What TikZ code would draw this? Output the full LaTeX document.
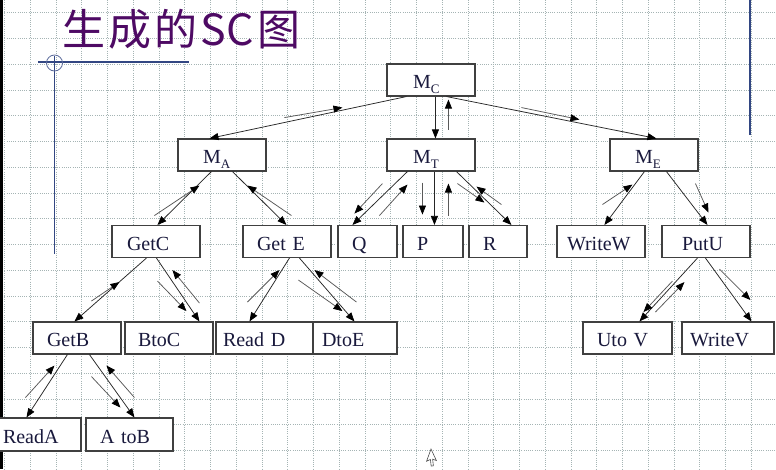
\documentclass[tikz,border=0pt]{standalone}
\usepackage{fontspec}
\setmainfont{Liberation Serif}
\newfontfamily\cjkfont{Noto Sans CJK SC}
\usetikzlibrary{calc,arrows.meta}
\definecolor{gridc}{RGB}{165,180,180}
\definecolor{titlec}{RGB}{78,10,100}
\definecolor{bluel}{RGB}{50,70,130}
\definecolor{txtc}{RGB}{25,25,60}
\newcommand\sbx[1]{\raisebox{-5pt}{\fontsize{13}{13}\selectfont #1}}
\begin{document}
\begin{tikzpicture}[x=1pt,y=-1pt,
  box/.style={draw=black!75,line width=1.1pt,fill=white,inner xsep=0pt,inner ysep=0pt,
    minimum height=32pt,text height=17pt,text depth=0pt,align=left,
    font=\fontsize{20}{24}\selectfont,text=txtc},
  marr/.style={draw=black!85,line width=0.75pt,-{Triangle[length=9pt,width=7pt,black]}},
  sarr/.style={draw=black!65,line width=0.75pt,-{Triangle[length=9pt,width=7pt,black]}},
  gridl/.style={draw=gridc,line width=0.7pt,dash pattern=on 1pt off 1.2pt},
]
\useasboundingbox (0,0) rectangle (776,469);
\clip (0,0) rectangle (776,469);
\fill[white] (0,0) rectangle (776,469);
% grid
\foreach \i in {0,...,29} \draw[gridl] ({4.5+25.75*\i},0) -- ({4.5+25.75*\i},469);
\foreach \j in {0,...,17} \draw[gridl] (0,{12.7+25.75*\j}) -- (776,{12.7+25.75*\j});
% left strip and blue rules
\fill[black] (0,0) rectangle (3,469);
\draw[bluel,line width=1.2pt] (38,62) -- (189,62);
\draw[bluel,line width=1.4pt] (54.5,56) -- (54.5,254);
\draw[bluel!80,line width=0.8pt] (54.5,63) circle (8);
\draw[bluel,line width=1.4pt] (750,0) -- (750,135);
% title
\node[anchor=base west,inner sep=0pt,text=titlec,font=\cjkfont\fontsize{43}{43}\selectfont] (title) at (62,45) {生\kern3pt 成\kern3pt 的\kern3pt S\kern1pt C\kern3pt 图};
% boxes
\node[box,text width=88pt] (MC) at (431,80) {\hspace*{26pt}M\sbx{C}};
\node[box,text width=88pt] (MT) at (431,155) {\hspace*{26pt}M\sbx{T}};
\node[box,text width=88pt] (MA) at (222,155) {\hspace*{25pt}M\sbx{A}};
\node[box,text width=88pt] (ME) at (654,155) {\hspace*{25pt}M\sbx{E}};
\node[box,text width=88pt] (GetC) at (156,241.5) {\hspace*{15pt}GetC};
\node[box,text width=88pt] (GetE) at (287,241.5) {\hspace*{14pt}Get E};
\node[box,text width=59pt] (Q) at (367.5,241.5) {\hspace*{14pt}Q};
\node[box,text width=60pt] (P) at (433,241.5) {\hspace*{14pt}P};
\node[box,text width=58pt] (R) at (498,241.5) {\hspace*{14pt}R};
\node[box,text width=88pt] (WriteW) at (601,241.5) {\hspace*{10pt}WriteW};
\node[box,text width=88pt] (PutU) at (706,241.5) {\hspace*{20pt}PutU};
\node[box,text width=88pt] (GetB) at (77,338) {\hspace*{14pt}GetB};
\node[box,text width=88pt] (BtoC) at (169,338) {\hspace*{13pt}BtoC};
\node[box,text width=97pt] (ReadD) at (264.5,338) {\hspace*{7pt}Read D};
\node[box,text width=84pt] (DtoE) at (355,338) {\hspace*{9pt}DtoE};
\node[box,text width=89pt] (UtoV) at (627.5,338) {\hspace*{14pt}Uto V};
\node[box,text width=92pt] (WriteV) at (728,338) {\hspace*{8pt}WriteV};
\node[box,text width=88pt,minimum height=33pt] (ReadA) at (37,434.5) {\hspace*{10pt}ReadA};
\node[box,text width=87pt,minimum height=33pt] (AtoB) at (129.5,434.5) {\hspace*{14pt}A toB};
% main connectors
\draw[marr] ($(MC.south west)+(20,0)$) -- ($(MA.north west)+(32,0)$);
\draw[marr] ($(MC.south west)+(49,0)$) -- ($(MT.north west)+(49,0)$);
\draw[marr] ($(MC.south west)+(60,0)$) -- ($(ME.north west)+(47,0)$);
\draw[marr] ($(MA.south west)+(34,0)$) -- ($(GetC.north west)+(46,0)$);
\draw[marr] ($(MA.south west)+(55,0)$) -- ($(GetE.north west)+(44,0)$);
\draw[marr] ($(MT.south west)+(21,0)$) -- ($(Q.north west)+(15,0)$);
\draw[marr] ($(MT.south west)+(48,0)$) -- ($(P.north west)+(32,0)$);
\draw[marr] ($(MT.south west)+(70,0)$) -- ($(R.north west)+(43,0)$);
\draw[marr] ($(ME.south west)+(35,0)$) -- ($(WriteW.north west)+(48,0)$);
\draw[marr] ($(ME.south west)+(57,0)$) -- ($(PutU.north west)+(46,0)$);
\draw[marr] ($(GetC.south west)+(35,0)$) -- ($(GetB.north west)+(42,0)$);
\draw[marr] ($(GetC.south west)+(45,0)$) -- ($(BtoC.north west)+(75,0)$);
\draw[marr] ($(GetE.south west)+(47,0)$) -- ($(ReadD.north west)+(34,0)$);
\draw[marr] ($(GetE.south west)+(57,0)$) -- ($(DtoE.north west)+(42,0)$);
\draw[marr] ($(GetB.south west)+(35,0)$) -- ($(ReadA.north west)+(34,0)$);
\draw[marr] ($(GetB.south west)+(57,0)$) -- ($(AtoB.north west)+(49,0)$);
\draw[marr] ($(PutU.south west)+(36,0)$) -- ($(UtoV.north west)+(57,0)$);
\draw[marr] ($(PutU.south west)+(44,0)$) -- ($(WriteV.north west)+(70,0)$);
% data-flow arrows
\draw[sarr] ($(MC.south west)+(-102,21)$) -- ($(MC.south west)+(-44,11)$);
\draw[sarr] ($(MC.south west)+(62,33)$) -- ($(MC.south west)+(62,3)$);
\draw[sarr] ($(MC.south west)+(135,11)$) -- ($(MC.south west)+(193,23)$);
\draw[sarr] ($(MA.south west)+(-23,44)$) -- ($(MA.south west)+(22,14)$);
\draw[sarr] ($(MA.south west)+(114,44)$) -- ($(MA.south west)+(70,14)$);
\draw[sarr] ($(MT.south west)+(-4,12)$) -- ($(MT.south west)+(-32,42)$);
\draw[sarr] ($(MT.south west)+(-7,44)$) -- ($(MT.south west)+(21,13)$);
\draw[sarr] ($(MT.south west)+(36,11)$) -- ($(MT.south west)+(36,43)$);
\draw[sarr] ($(MT.south west)+(62,44)$) -- ($(MT.south west)+(62,12)$);
\draw[sarr] ($(MT.south west)+(71,12)$) -- ($(MT.south west)+(98,31)$);
\draw[sarr] ($(MT.south west)+(115,33)$) -- ($(MT.south west)+(90,15)$);
\draw[sarr] ($(ME.south west)+(-7,33)$) -- ($(ME.south west)+(23,13)$);
\draw[sarr] ($(ME.south west)+(86,12)$) -- ($(ME.south west)+(99,41)$);
\draw[sarr] ($(GetC.south west)+(-20,43)$) -- ($(GetC.south west)+(8,24)$);
\draw[sarr] ($(GetC.south west)+(46,23)$) -- ($(GetC.south west)+(75,53)$);
\draw[sarr] ($(GetC.south west)+(88,45)$) -- ($(GetC.south west)+(61,12)$);
\draw[sarr] ($(GetE.south west)+(5,44)$) -- ($(GetE.south west)+(37,12)$);
\draw[sarr] ($(GetE.south west)+(56,22)$) -- ($(GetE.south west)+(100,53)$);
\draw[sarr] ($(GetE.south west)+(114,44)$) -- ($(GetE.south west)+(72,12)$);
\draw[sarr] ($(GetB.south west)+(-7,43)$) -- ($(GetB.south west)+(22,11)$);
\draw[sarr] ($(GetB.south west)+(59,22)$) -- ($(GetB.south west)+(88,53)$);
\draw[sarr] ($(GetB.south west)+(102,43)$) -- ($(GetB.south west)+(74,11)$);
\draw[sarr] ($(PutU.south west)+(11,23)$) -- ($(PutU.south west)+(-18,54)$);
\draw[sarr] ($(PutU.south west)+(-6,54)$) -- ($(PutU.south west)+(23,24)$);
\draw[sarr] ($(PutU.south west)+(58,11)$) -- ($(PutU.south west)+(89,42)$);
% mouse pointer
\draw[black!70,fill=white,line width=0.6pt,rotate around={-20:(431,449)}] (431,449) -- (431,462) -- (434,459) -- (437,465) -- (439,464) -- (436,458) -- (440,458) -- cycle;
\end{tikzpicture}
\end{document}
